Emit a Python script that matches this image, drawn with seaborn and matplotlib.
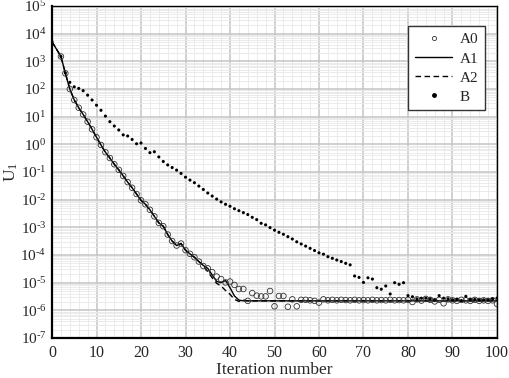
import numpy as np
import pandas as pd
import seaborn as sns
import matplotlib
matplotlib.use("Agg")
import matplotlib.pyplot as plt
from matplotlib.lines import Line2D
from matplotlib.ticker import LogLocator, MultipleLocator, NullFormatter, FuncFormatter

# data
iters_line = [0] + list(range(2, 101))
a1 = [5.1e3, 1.5e3, 3.7e2, 1.0e2, 40, 21, 12, 6.6, 3.5, 1.8,
      0.95, 0.52, 0.32, 0.19, 0.12, 0.072, 0.043, 0.027, 0.016, 9.5e-3,
      6.8e-3, 4.3e-3, 2.5e-3, 1.45e-3, 1.1e-3, 5.5e-4, 3.2e-4, 2.2e-4, 2.6e-4, 1.5e-4,
      1.1e-4, 8.3e-5, 5.8e-5, 4.2e-5, 3.3e-5, 1.9e-5, 1.12e-5, 1.0e-5, 1.2e-5, 6.6e-6,
      3.3e-6, 2.35e-6] + [2.2e-6] * 58
a2 = a1[:34] + [2.5e-5, 1.5e-5, 9.5e-6, 7.6e-6, 5.2e-6, 3.8e-6, 2.5e-6, 2.1e-6, 2.4e-6] + [2.2e-6] * 57

iters_a0 = list(range(2, 101))
a0 = a1[1:33] + [4.0e-5, 3.3e-5, 2.4e-5, 1.66e-5, 1.35e-5, 1.02e-5, 1.1e-5, 8.3e-6, 5.9e-6, 5.9e-6,
                 2.2e-6, 4.2e-6, 3.4e-6, 3.2e-6, 3.2e-6, 5.0e-6, 1.4e-6, 3.3e-6, 3.3e-6, 1.35e-6,
                 2.5e-6, 1.4e-6, 2.4e-6, 2.4e-6, 2.3e-6, 2.2e-6, 1.9e-6, 2.5e-6, 2.3e-6, 2.4e-6,
                 2.3e-6, 2.4e-6, 2.35e-6, 2.3e-6, 2.4e-6, 2.3e-6, 2.35e-6, 2.3e-6, 2.4e-6, 2.3e-6,
                 2.35e-6, 2.3e-6, 2.4e-6, 2.3e-6, 2.35e-6, 2.3e-6, 2.4e-6, 2.0e-6, 2.5e-6, 2.25e-6,
                 2.6e-6, 2.4e-6, 2.1e-6, 2.4e-6, 1.8e-6, 2.5e-6, 2.3e-6, 2.2e-6, 2.4e-6, 2.3e-6,
                 2.2e-6, 2.4e-6, 2.2e-6, 2.3e-6, 2.2e-6, 2.3e-6, 1.7e-6]

iters_b = [0] + list(range(2, 101))
b = [5.1e3, 1.5e3, 3.8e2, 1.74e2, 1.2e2, 1.05e2, 87, 60, 40, 26,
     17, 10.5, 6.6, 4.6, 3.3, 2.2, 2.0, 1.5, 1.05, 1.12,
     0.71, 0.5, 0.54, 0.35, 0.24, 0.18, 0.145, 0.117, 0.089, 0.065,
     0.051, 0.041, 0.031, 0.0234, 0.0174, 0.0135, 0.0105, 0.0083, 0.0068, 0.0058,
     0.0047, 0.0040, 0.0034, 0.0029, 0.0023, 0.0019, 0.0014, 0.00123, 9.8e-4, 7.9e-4,
     6.6e-4, 5.6e-4, 4.6e-4, 3.8e-4, 3.0e-4, 2.5e-4, 2.1e-4, 1.74e-4, 1.45e-4, 1.2e-4,
     1.07e-4, 8.7e-5, 7.6e-5, 6.6e-5, 5.8e-5, 5.0e-5, 4.4e-5, 1.74e-5, 1.55e-5, 1.02e-5,
     1.5e-5, 1.35e-5, 6.6e-6, 5.8e-6, 7.6e-6, 3.9e-6, 1.0e-5, 8.7e-6, 1.0e-5, 3.4e-6,
     3.1e-6, 2.6e-6, 2.75e-6, 2.75e-6, 2.6e-6, 2.4e-6, 3.4e-6, 2.75e-6, 2.6e-6, 2.4e-6,
     2.5e-6, 2.25e-6, 3.2e-6, 2.5e-6, 2.5e-6, 2.4e-6, 2.4e-6, 2.4e-6, 2.6e-6, 2.75e-6]

sns.set_style("white")
plt.rcParams['font.family'] = ['Liberation Serif', 'DejaVu Serif']
plt.rcParams['mathtext.fontset'] = 'custom'
plt.rcParams['mathtext.rm'] = 'Liberation Serif'
plt.rcParams['mathtext.it'] = 'Liberation Serif:italic'


def pow10(v, pos):
    e = int(round(np.log10(v)))
    if e < 0:
        return r'$\mathregular{10^{\text{-}%d}}$' % (-e)
    return r'$\mathregular{10^{%d}}$' % e


fig = plt.figure(figsize=(5.09, 3.78), dpi=100)
ax = fig.add_axes([0.1022, 0.1058, 0.8742, 0.8783])

sns.lineplot(x=iters_line, y=a1, ax=ax, color='black', lw=1.0, sort=False)
sns.lineplot(x=iters_line, y=a2, ax=ax, color='black', lw=1.0, ls=(0, (4, 2.5)), sort=False)
sns.scatterplot(x=iters_a0, y=a0, ax=ax, marker='o', s=16, facecolor='none',
                edgecolor='#333333', linewidth=0.6, zorder=3)
sns.scatterplot(x=iters_b, y=b, ax=ax, marker='o', s=5, color='black',
                edgecolor='none', zorder=4)

ax.set_yscale('log')
ax.set_xlim(0, 100)
ax.set_ylim(1e-7, 1e5)
ax.xaxis.set_major_locator(MultipleLocator(10))
ax.xaxis.set_minor_locator(MultipleLocator(2))
ax.yaxis.set_major_locator(LogLocator(base=10, numticks=20))
ax.yaxis.set_minor_locator(LogLocator(base=10, subs=np.arange(2, 10), numticks=20))
ax.yaxis.set_major_formatter(FuncFormatter(pow10))
ax.yaxis.set_minor_formatter(NullFormatter())

ax.grid(which='major', color='#c4c4c4', lw=1.1)
ax.grid(which='minor', color='#e8e8e8', lw=0.6)
ax.set_axisbelow(True)

ax.tick_params(axis='x', which='major', direction='in', length=7, width=1.2, labelsize=11.5, pad=5)
ax.tick_params(axis='x', which='minor', direction='in', length=4, width=1.0)
ax.tick_params(axis='y', which='both', length=0, labelsize=11, pad=4)
for side in ['left', 'bottom']:
    ax.spines[side].set_linewidth(1.6)
for side in ['top', 'right']:
    ax.spines[side].set_linewidth(1.0)
for sp in ax.spines.values():
    sp.set_color('black')

ax.set_xlabel('Iteration number', fontsize=12.5, labelpad=1)
ax.set_ylabel(r'U$_{1}$', fontsize=12.5)
ax.yaxis.set_label_coords(-0.071, 0.5)

handles = [
    Line2D([], [], ls='none', marker='o', ms=3, mfc='none', mec='#333333', mew=0.6),
    Line2D([], [], color='black', lw=1.0),
    Line2D([], [], color='black', lw=1.0, ls=(0, (4, 2.5))),
    Line2D([], [], ls='none', marker='o', ms=2.5, color='black'),
]
leg = ax.legend(handles, ['A0', 'A1', 'A2', 'B'], loc='upper right',
                bbox_to_anchor=(0.973, 0.94), borderaxespad=0, fontsize=11,
                fancybox=False, edgecolor='#333333', framealpha=1,
                handlelength=2.4, labelspacing=0.35, borderpad=0.45, handletextpad=0.5)
leg.get_frame().set_linewidth(1.0)

fig.savefig('out.png', dpi=100)
